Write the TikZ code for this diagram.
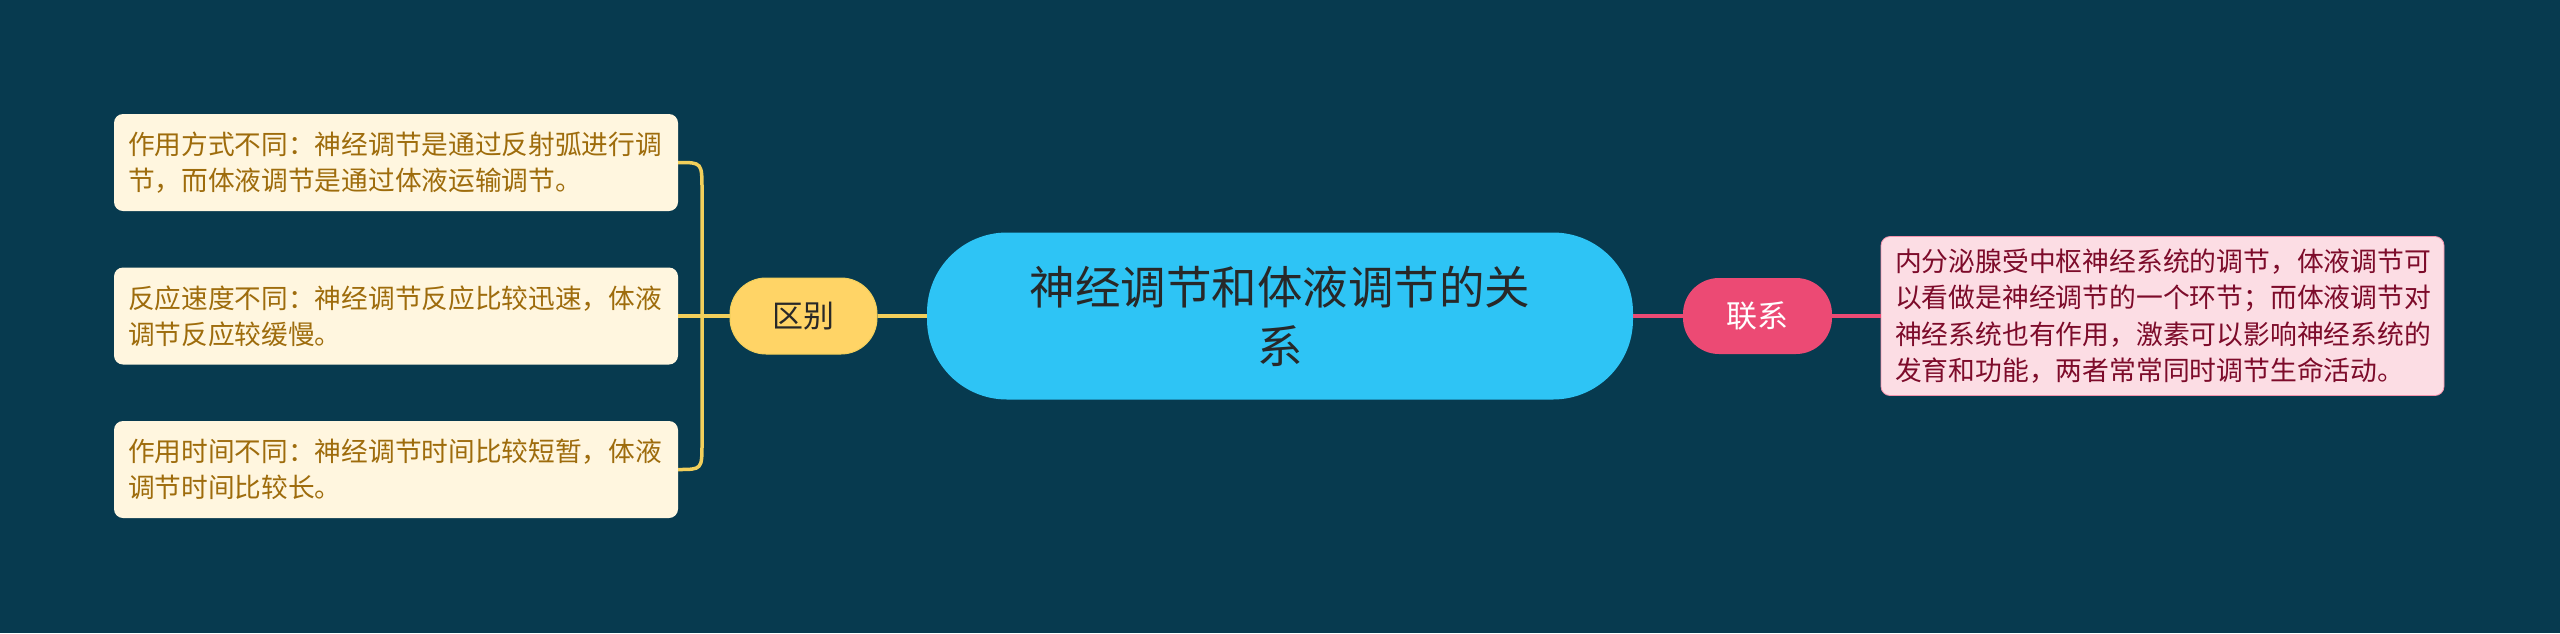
\documentclass[tikz,border=0pt]{standalone}
\usepackage{fontspec}
\setmainfont{Noto Sans CJK SC}
\definecolor{bgc}{RGB}{7,58,79}
\definecolor{cream}{RGB}{255,246,223}
\definecolor{goldtext}{RGB}{158,108,12}
\definecolor{ynode}{RGB}{255,212,102}
\definecolor{yline}{RGB}{242,207,91}
\definecolor{cyanc}{RGB}{46,196,245}
\definecolor{pinkc}{RGB}{236,74,116}
\definecolor{pinklight}{RGB}{252,221,228}
\definecolor{darkred}{RGB}{125,11,42}
\definecolor{ctext}{RGB}{40,40,40}
\begin{document}
\begin{tikzpicture}[x=1pt,y=-1pt,
  leaf/.style={fill=cream, text=goldtext, rounded corners=9pt, text width=536pt, inner xsep=14pt, minimum height=97pt, align=left, font=\fontsize{26.7}{36}\selectfont},
  ybranch/.style={fill=ynode, draw=yline, line width=1pt, text=ctext, rounded corners=36pt, minimum width=147pt, minimum height=76pt, inner sep=0pt, font=\fontsize{31}{36}\selectfont},
  pbranch/.style={fill=pinkc, text=white, rounded corners=36pt, minimum width=149pt, minimum height=76pt, inner sep=0pt, font=\fontsize{31}{36}\selectfont},
  rootnode/.style={fill=cyanc, text=ctext, rounded corners=80pt, minimum width=706pt, minimum height=167pt, text width=560pt, align=center, inner sep=0pt, font=\fontsize{45.5}{59}\selectfont},
  rleaf/.style={fill=pinklight, draw=pinkc!60, line width=0.8pt, text=darkred, rounded corners=9pt, text width=535pt, inner xsep=14pt, minimum height=159pt, align=left, font=\fontsize{26.8}{36.5}\selectfont},
  ylink/.style={draw=yline, line width=3.5pt},
  plink/.style={draw=pinkc, line width=3.5pt}]
\fill[bgc] (0,0) rectangle (2560,633);
\useasboundingbox (0,0) rectangle (2560,633);

\node[leaf] (b1) at (396,162.5) {作用方式不同：神经调节是通过反射弧进行调\\节，而体液调节是通过体液运输调节。};
\node[leaf] (b2) at (396,316) {反应速度不同：神经调节反应比较迅速，体液\\调节反应较缓慢。};
\node[leaf] (b3) at (396,469.5) {作用时间不同：神经调节时间比较短暂，体液\\调节时间比较长。};

\coordinate (s1) at (702,190);
\coordinate (s2) at (702,443);

\node[ybranch] (qb) at (803.5,316) {区别};
\node[rootnode] (root) at (1280,316) {神经调节和体液调节的关\\系};
\node[pbranch] (lx) at (1757.5,316) {联系};
\node[rleaf] (rb) at (2162.5,316) {内分泌腺受中枢神经系统的调节，体液调节可\\以看做是神经调节的一个环节；而体液调节对\\神经系统也有作用，激素可以影响神经系统的\\发育和功能，两者常常同时调节生命活动。};

\draw[ylink] (b1.east) .. controls (702,162.5) .. (s1) -- (s2) .. controls (702,469.5) .. (b3.east);
\draw[ylink] (b2.east) -- (qb.west);
\draw[ylink] (qb.east) -- (root.west);
\draw[plink] (root.east) -- (lx.west);
\draw[plink] (lx.east) -- (rb.west);
\end{tikzpicture}
\end{document}
